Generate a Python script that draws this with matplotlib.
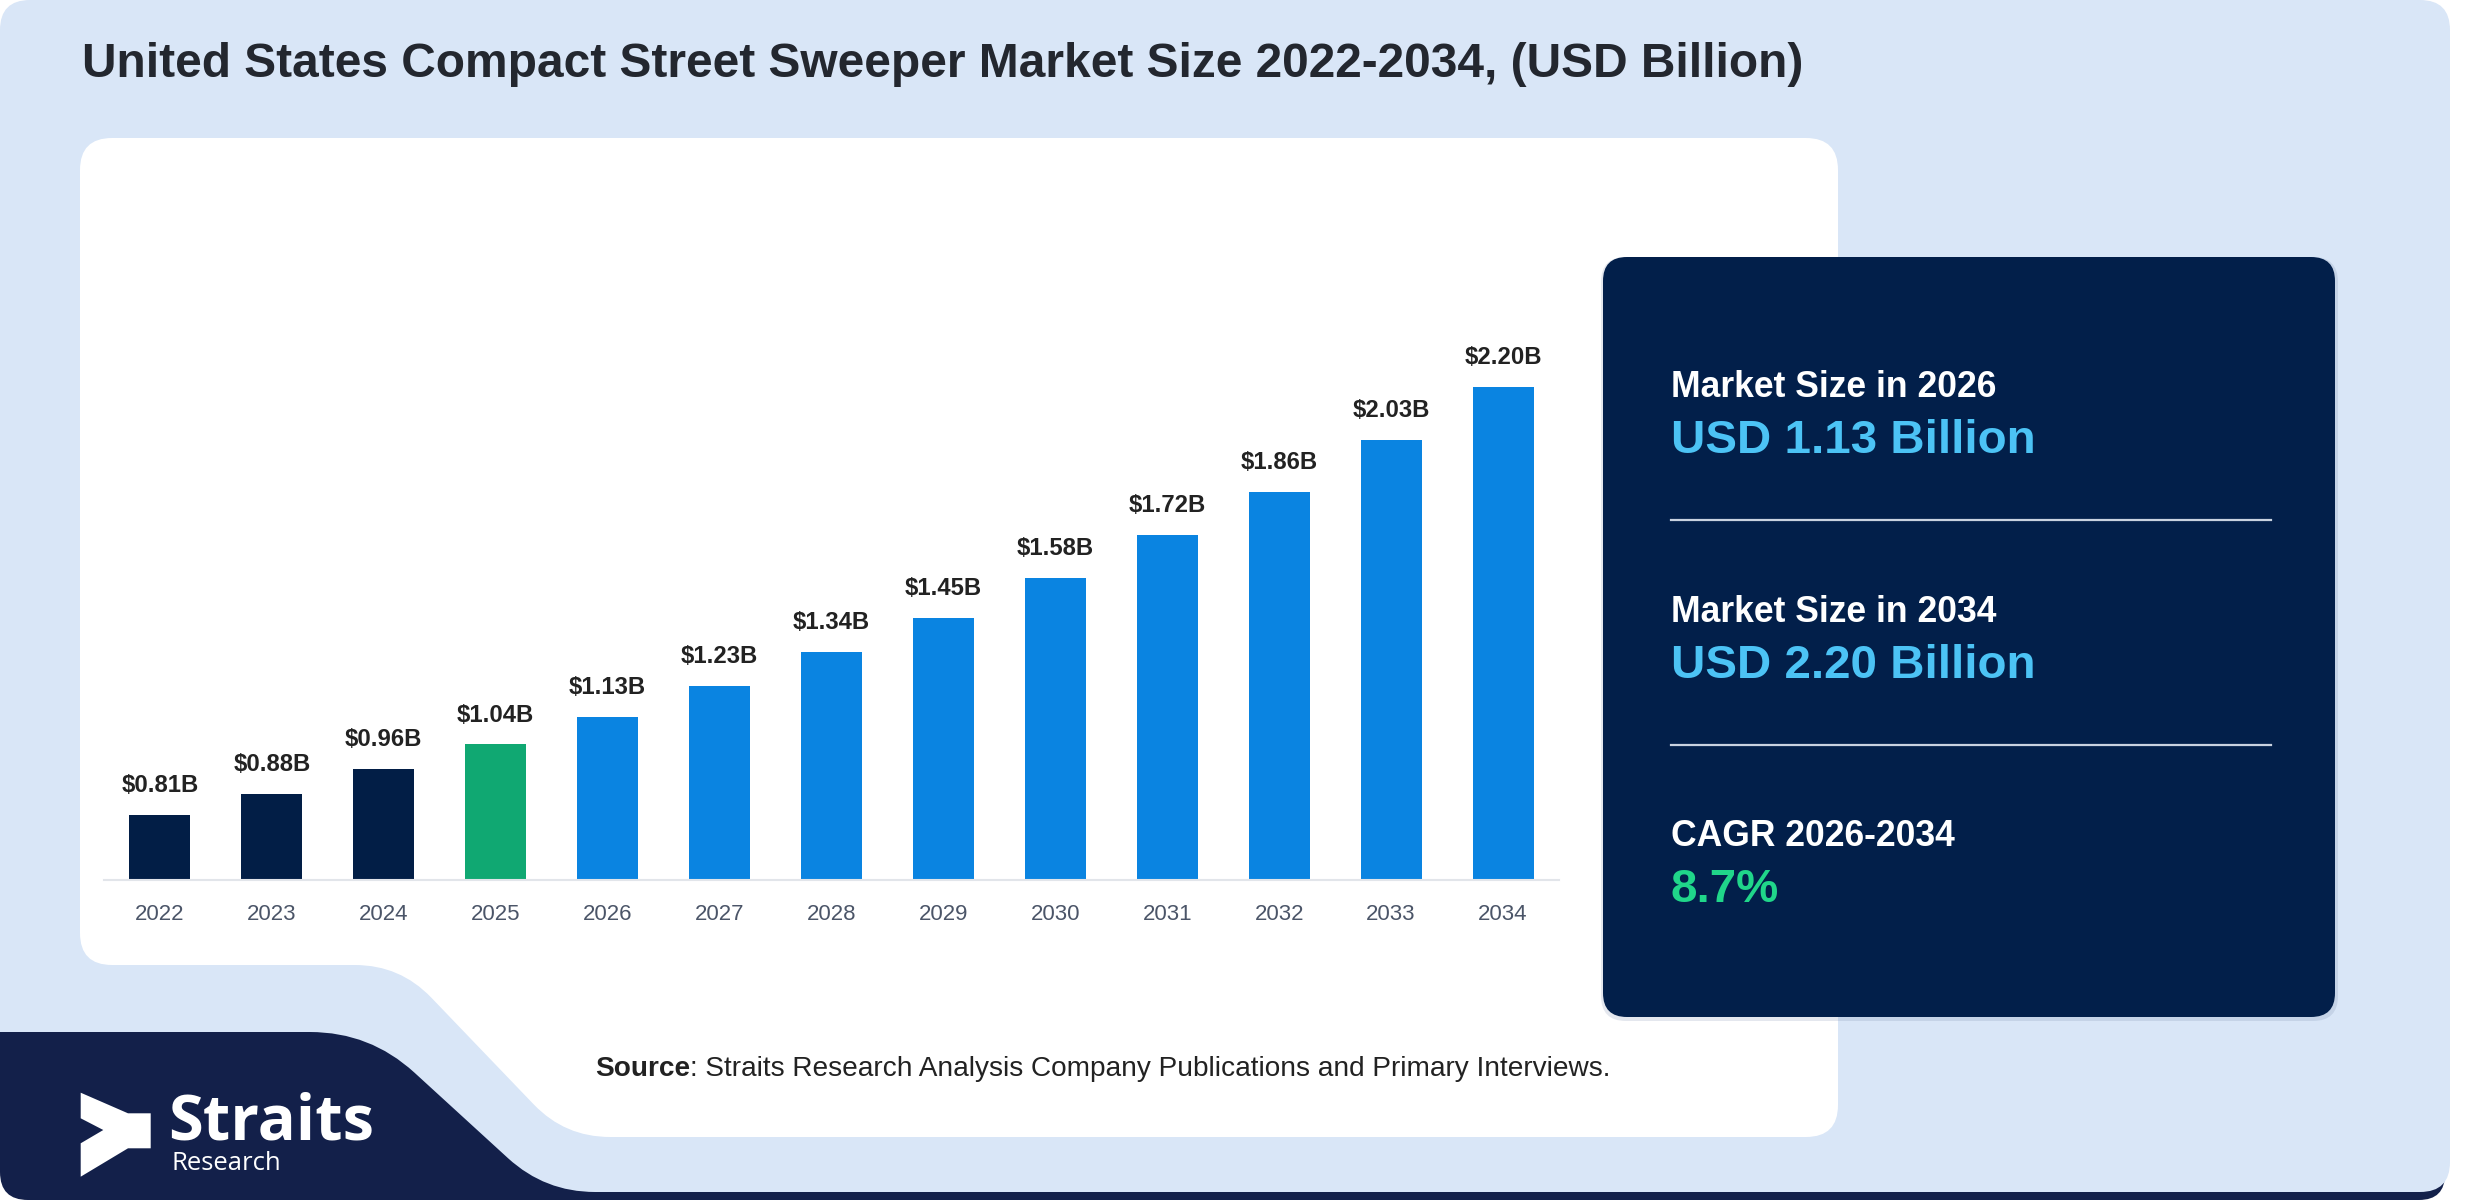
import numpy as np
import matplotlib
matplotlib.use("Agg")
import matplotlib.pyplot as plt
from matplotlib.path import Path
from matplotlib.patches import PathPatch, Polygon

plt.rcParams['font.family'] = ['Liberation Sans', 'DejaVu Sans']

# --- data ---
years = ['2022', '2023', '2024', '2025', '2026', '2027', '2028',
         '2029', '2030', '2031', '2032', '2033', '2034']
values = [0.81, 0.88, 0.96, 1.04, 1.13, 1.23, 1.34, 1.45, 1.58, 1.72, 1.86, 2.03, 2.20]
phase = ['hist', 'hist', 'hist', 'base', 'fc', 'fc', 'fc', 'fc', 'fc', 'fc', 'fc', 'fc', 'fc']

title = 'United States Compact Street Sweeper Market Size 2022-2034, (USD Billion)'
panel_labels = ['Market Size in 2026', 'Market Size in 2034', 'CAGR 2026-2034']
panel_values = ['USD 1.13 Billion', 'USD 2.20 Billion', '8.7%']
source_bold = 'Source'
source_rest = ': Straits Research Analysis Company Publications and Primary Interviews.'

# --- colours ---
LIGHT = '#d9e6f7'
NAVY_BLOCK = '#13204a'
PANEL = '#021f4a'
phase_colors = {'hist': '#021e46', 'base': '#10a872', 'fc': '#0a84e1'}
value_colors = ['#4cc3f5', '#4cc3f5', '#20d68a']

W, H = 2480, 1200


def rounded_poly(pts, radii):
    # polygon with quadratic-bezier rounded corners (pixel coords)
    n = len(pts)
    verts, codes = [], []
    for i in range(n):
        p0 = np.array(pts[i - 1], float)
        p1 = np.array(pts[i], float)
        p2 = np.array(pts[(i + 1) % n], float)
        r = radii[i]
        l0 = np.linalg.norm(p0 - p1)
        l1 = np.linalg.norm(p2 - p1)
        a = p1 + (p0 - p1) / l0 * min(r, l0 / 2)
        b = p1 + (p2 - p1) / l1 * min(r, l1 / 2)
        verts.append(a)
        codes.append(Path.MOVETO if i == 0 else Path.LINETO)
        verts += [p1, b]
        codes += [Path.CURVE3, Path.CURVE3]
    verts.append(verts[0])
    codes.append(Path.CLOSEPOLY)
    return Path(verts, codes)


def rrect(x0, y0, x1, y1, r):
    return rounded_poly([(x0, y0), (x1, y0), (x1, y1), (x0, y1)], [r] * 4)


fig = plt.figure(figsize=(W / 100, H / 100), dpi=100, facecolor='white')
bg = fig.add_axes([0, 0, 1, 1])
bg.set_xlim(0, W)
bg.set_ylim(H, 0)
bg.axis('off')

# background layers
bg.add_patch(PathPatch(rrect(420, 1140, 2445, 1200, 26), fc=NAVY_BLOCK, ec='none'))
bg.add_patch(PathPatch(rrect(0, 0, 2450, 1192, 30), fc=LIGHT, ec='none'))
bg.add_patch(PathPatch(rounded_poly(
    [(0, 1032), (370, 1032), (545, 1192), (700, 1192), (700, 1200), (0, 1200)],
    [0, 60, 50, 0, 0, 28]), fc=NAVY_BLOCK, ec='none'))
bg.add_patch(PathPatch(rounded_poly(
    [(80, 138), (1838, 138), (1838, 1137), (565, 1137), (400, 965), (80, 965)],
    [32, 32, 32, 45, 45, 32]), fc='white', ec='none'))

# right panel with soft shadow
bg.add_patch(PathPatch(rrect(1601, 257, 2338, 1021, 25), fc='#6b7fa3', ec='none', alpha=0.18))
bg.add_patch(PathPatch(rrect(1603, 257, 2335, 1017, 24), fc=PANEL, ec='none'))

# title
bg.text(82, 77, title, fontsize=34.5, fontweight='bold', color='#23272f', va='baseline', ha='left')

# panel texts
for i, (lab, val) in enumerate(zip(panel_labels, panel_values)):
    y0 = 397 + i * 224.5
    bg.text(1671, y0, lab, fontsize=25.6, fontweight='bold', color='white', va='baseline')
    bg.text(1671, y0 + 56, val, fontsize=34.2, fontweight='bold', color=value_colors[i], va='baseline')
    if i < 2:
        bg.plot([1671, 2271], [y0 + 123, y0 + 123], color='#c9d2e0', lw=1.6)

# source line
fig.canvas.draw()
renderer = fig.canvas.get_renderer()
t_bold = bg.text(595, 1076, source_bold, fontsize=20.2, fontweight='bold', color='#222222', va='baseline')
ext = t_bold.get_window_extent(renderer)
bg.text(ext.x1, 1076, source_rest, fontsize=20.2, color='#222222', va='baseline')

# logo
logo = [(80.7, 1092.7), (128, 1113.3), (150.7, 1113.3), (150.7, 1148.3), (128, 1148.3),
        (80.7, 1176.7), (80.7, 1143.3), (103.3, 1130), (80.7, 1118.3)]
bg.add_patch(Polygon(logo, closed=True, fc='white', ec='none'))
bg.text(168, 1140, 'Straits', fontsize=45.5, fontweight='bold', color='white',
        family=['Open Sans', 'DejaVu Sans'], va='baseline')
bg.text(171, 1170, 'Research', fontsize=18.5, color='white',
        family=['Open Sans', 'DejaVu Sans'], va='baseline')

# --- bar chart ---
ax = fig.add_axes([104 / W, (H - 880) / H, 1455 / W, 700 / H])
ax.set_facecolor('none')
x = np.arange(len(years))
ax.bar(x, values, width=0.545, color=[phase_colors[p] for p in phase], zorder=2)
ax.set_xlim(-0.5, len(years) - 0.5)
ax.set_ylim(0.6, 0.6 + 700 / 308)
for xi, v in zip(x, values):
    ax.annotate(f'${v:.2f}B', (xi, v), xytext=(0, 16.5), textcoords='offset points',
                ha='center', va='baseline', fontsize=17.2, fontweight='bold', color='#222222')
ax.set_xticks(x)
ax.set_xticklabels(years, fontsize=16, color='#4b5568')
ax.tick_params(axis='x', length=0, pad=17)
ax.set_yticks([])
for s in ['top', 'right', 'left']:
    ax.spines[s].set_visible(False)
ax.spines['bottom'].set_color('#e2e5ea')
ax.spines['bottom'].set_linewidth(1.5)

fig.savefig('out.png', dpi=100, facecolor='white')
